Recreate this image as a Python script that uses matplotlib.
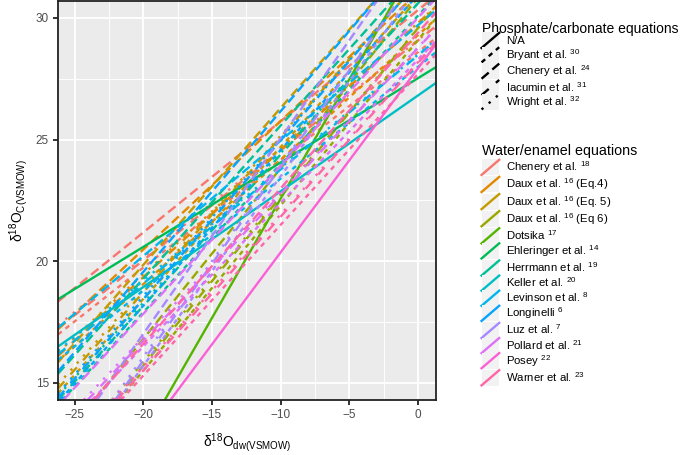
import numpy as np
import matplotlib
matplotlib.use("Agg")
import matplotlib.pyplot as plt
from matplotlib.lines import Line2D
from matplotlib.patches import Rectangle
from matplotlib.legend_handler import HandlerBase

plt.rcParams['font.family'] = ['Liberation Sans', 'DejaVu Sans']
plt.rcParams['mathtext.fontset'] = 'custom'
plt.rcParams['mathtext.rm'] = 'Liberation Sans'
plt.rcParams['mathtext.it'] = 'Liberation Sans:italic'
plt.rcParams['mathtext.bf'] = 'Liberation Sans:bold'

# water -> enamel equations (phosphate: Op = a*dw + b ; carbonate: Oc = a*dw + b)
water_names = ["Chenery et al. ${}^{18}$", "Daux et al. ${}^{16}$ (Eq.4)", "Daux et al. ${}^{16}$ (Eq. 5)",
               "Daux et al. ${}^{16}$ (Eq 6)", "Dotsika ${}^{17}$", "Ehleringer et al. ${}^{14}$",
               "Herrmann et al. ${}^{19}$", "Keller et al. ${}^{20}$", "Levinson et al. ${}^{8}$",
               "Longinelli ${}^{6}$", "Luz et al. ${}^{7}$", "Pollard et al. ${}^{21}$",
               "Posey ${}^{22}$", "Warner et al. ${}^{23}$"]
water_kind = ["p", "p", "p", "p", "c", "c", "p", "c", "p", "p", "p", "p", "c", "p"]
water_slope = [0.443, 0.512, 0.625, 0.68, 0.982, 0.347, 0.61, 0.394, 0.46, 0.64, 0.78, 0.59, 0.757, 0.62]
water_int = [20.0, 20.7, 22.35, 20.5, 32.4, 27.53, 21.5, 26.82, 19.4, 22.37, 22.7, 19.7, 27.94, 19.1]
water_cols = ["#F8766D", "#E38900", "#C49A00", "#99A800", "#53B400", "#00BC56", "#00C094",
              "#00BFC4", "#00B6EB", "#06A4FF", "#A58AFF", "#DF70F8", "#FB61D7", "#FF66A8"]

# phosphate -> carbonate equations (Oc = c*Op + d)
conv_names = ["N/A", "Bryant et al. ${}^{30}$", "Chenery et al. ${}^{24}$",
              "Iacumin et al. ${}^{31}$", "Wright et al. ${}^{32}$"]
conv_slope = [1.0, 1.0, 1.0322, 1.0204, 1.01]
conv_int = [0.0, 8.6, 9.6849, 8.673, 8.9]
conv_ls = ['-', (0, (2, 2)), (0, (4, 2)), (0, (4, 4)), (0, (1, 3))]

LW = 1.7

fig = plt.figure(figsize=(6.85, 4.55), dpi=100)
ax = fig.add_axes([0.0847, 0.1209, 0.5518, 0.877])
ax.set_facecolor('#EBEBEB')

for i in range(len(water_names)):
    if water_kind[i] == "c":
        ax.axline((0, water_int[i]), slope=water_slope[i], color=water_cols[i],
                  lw=LW, ls=conv_ls[0], solid_capstyle='butt')
    else:
        for j in range(1, len(conv_names)):
            s = conv_slope[j] * water_slope[i]
            b = conv_slope[j] * water_int[i] + conv_int[j]
            ax.axline((0, b), slope=s, color=water_cols[i], lw=LW,
                      ls=conv_ls[j], dash_capstyle='butt')

ax.set_xlim(-26.2, 1.3)
ax.set_ylim(14.3, 30.7)
ax.set_xticks([-25, -20, -15, -10, -5, 0])
ax.set_yticks([15, 20, 25, 30])
ax.set_xticks(np.arange(-22.5, 1, 5), minor=True)
ax.set_yticks([17.5, 22.5, 27.5], minor=True)
ax.grid(which='major', color='white', lw=1.3)
ax.grid(which='minor', color='white', lw=0.65)
ax.set_axisbelow(True)
ax.tick_params(which='major', length=3.5, width=1.3, color='#222222', labelsize=8.5,
               labelcolor='#4D4D4D', pad=3)
ax.tick_params(which='minor', length=0)
for sp in ax.spines.values():
    sp.set_color('#222222')
    sp.set_linewidth(1.3)

ax.set_xlabel('δ$^{18}$O$_{\\mathrm{dw(VSMOW)}}$', fontsize=10, labelpad=7)
ax.set_ylabel('δ$^{18}$O$_{\\mathrm{C(VSMOW)}}$', fontsize=10, labelpad=4)


class DiagKey(HandlerBase):
    def create_artists(self, legend, orig_handle, xdescent, ydescent, width, height, fontsize, trans):
        x0 = -xdescent
        y0 = -ydescent
        bg = Rectangle((x0, y0 - 0.5 * height), width, height * 2.0, facecolor='#F2F2F2',
                       edgecolor='none', transform=trans)
        ln = Line2D([x0, x0 + width], [y0 - 0.45 * height, y0 + 1.45 * height])
        ln.update_from(orig_handle)
        ln.set_transform(trans)
        return [bg, ln]


conv_handles = [Line2D([], [], color='black', lw=LW, ls=conv_ls[j], dash_capstyle='butt')
                for j in range(len(conv_names))]
water_handles = [Line2D([], [], color=water_cols[i], lw=LW) for i in range(len(water_names))]

common = dict(frameon=False, fontsize=8.2, handlelength=1.55, handletextpad=0.6,
              borderaxespad=0, borderpad=0,
              handler_map={Line2D: DiagKey()}, alignment='left')
leg1 = fig.legend(conv_handles, conv_names, loc='upper left', bbox_to_anchor=(0.703, 0.952),
                  title='Phosphate/carbonate equations', title_fontsize=10,
                  labelspacing=0.05, **common)
leg2 = fig.legend(water_handles, water_names, loc='upper left', bbox_to_anchor=(0.703, 0.683),
                  title='Water/enamel equations', title_fontsize=10.3,
                  labelspacing=0.115, **common)

fig.savefig('out.png', dpi=100)
